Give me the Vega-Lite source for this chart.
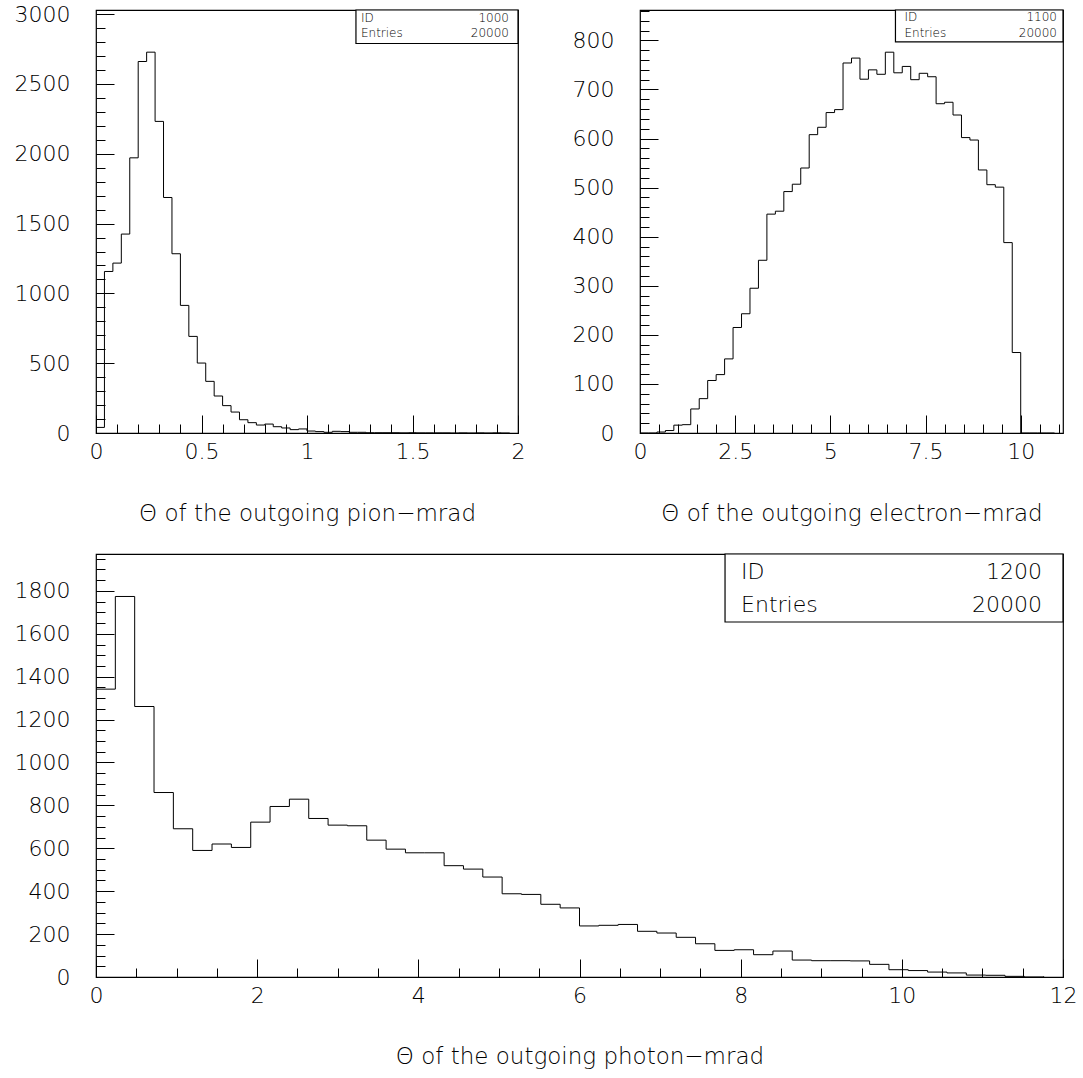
{
  "$schema": "https://vega.github.io/schema/vega-lite/v6.json",
  "background": "white",
  "padding": {"left": 13, "top": 2, "right": 0, "bottom": 0},
  "config": {
    "font": "DejaVu Sans",
    "view": {"stroke": "black", "strokeWidth": 1.2},
    "axis": {
      "domain": false, "grid": false,
      "tickColor": "black", "tickWidth": 1,
      "labelFont": "DejaVu Sans", "labelFontSize": 22, "labelFontWeight": 200, "labelColor": "black",
      "labelFlush": false, "labelOverlap": false,
      "titleFont": "DejaVu Sans", "titleFontSize": 23, "titleFontWeight": 200, "titleColor": "black"
    }
  },
  "datasets": {
    "pion": [
      {"theta": 0.00, "entries": 40}, {"theta": 0.04, "entries": 1157}, {"theta": 0.08, "entries": 1217},
      {"theta": 0.12, "entries": 1425}, {"theta": 0.16, "entries": 1971}, {"theta": 0.20, "entries": 2661},
      {"theta": 0.24, "entries": 2728}, {"theta": 0.28, "entries": 2232}, {"theta": 0.32, "entries": 1687},
      {"theta": 0.36, "entries": 1284}, {"theta": 0.40, "entries": 914}, {"theta": 0.44, "entries": 692},
      {"theta": 0.48, "entries": 501}, {"theta": 0.52, "entries": 370}, {"theta": 0.56, "entries": 265},
      {"theta": 0.60, "entries": 196}, {"theta": 0.64, "entries": 150}, {"theta": 0.68, "entries": 95},
      {"theta": 0.72, "entries": 74}, {"theta": 0.76, "entries": 57}, {"theta": 0.80, "entries": 64},
      {"theta": 0.84, "entries": 45}, {"theta": 0.88, "entries": 36}, {"theta": 0.92, "entries": 24},
      {"theta": 0.96, "entries": 29}, {"theta": 1.00, "entries": 14}, {"theta": 1.04, "entries": 10},
      {"theta": 1.08, "entries": 5}, {"theta": 1.12, "entries": 12}, {"theta": 1.16, "entries": 10},
      {"theta": 1.20, "entries": 5}, {"theta": 1.24, "entries": 5}, {"theta": 1.28, "entries": 2},
      {"theta": 1.32, "entries": 2}, {"theta": 1.36, "entries": 2}, {"theta": 1.40, "entries": 2},
      {"theta": 1.44, "entries": 1}, {"theta": 1.48, "entries": 2}, {"theta": 1.52, "entries": 1},
      {"theta": 1.56, "entries": 1}, {"theta": 1.60, "entries": 1}, {"theta": 1.64, "entries": 1},
      {"theta": 1.68, "entries": 0}, {"theta": 1.72, "entries": 1}, {"theta": 1.76, "entries": 0},
      {"theta": 1.80, "entries": 1}, {"theta": 1.84, "entries": 0}, {"theta": 1.88, "entries": 1},
      {"theta": 1.92, "entries": 0}, {"theta": 1.96, "entries": 1}
    ],
    "electron": [
      {"theta": 0.0000, "entries": 0}, {"theta": 0.2222, "entries": 0}, {"theta": 0.4444, "entries": 2},
      {"theta": 0.6667, "entries": 5}, {"theta": 0.8889, "entries": 16}, {"theta": 1.1111, "entries": 17},
      {"theta": 1.3333, "entries": 49}, {"theta": 1.5556, "entries": 70}, {"theta": 1.7778, "entries": 107},
      {"theta": 2.0000, "entries": 119}, {"theta": 2.2222, "entries": 151}, {"theta": 2.4444, "entries": 215},
      {"theta": 2.6667, "entries": 243}, {"theta": 2.8889, "entries": 295}, {"theta": 3.1111, "entries": 352},
      {"theta": 3.3333, "entries": 446}, {"theta": 3.5556, "entries": 452}, {"theta": 3.7778, "entries": 492},
      {"theta": 4.0000, "entries": 507}, {"theta": 4.2222, "entries": 540}, {"theta": 4.4444, "entries": 608},
      {"theta": 4.6667, "entries": 623}, {"theta": 4.8889, "entries": 653}, {"theta": 5.1111, "entries": 659},
      {"theta": 5.3333, "entries": 754}, {"theta": 5.5556, "entries": 764}, {"theta": 5.7778, "entries": 721},
      {"theta": 6.0000, "entries": 740}, {"theta": 6.2222, "entries": 731}, {"theta": 6.4444, "entries": 776},
      {"theta": 6.6667, "entries": 734}, {"theta": 6.8889, "entries": 747}, {"theta": 7.1111, "entries": 720},
      {"theta": 7.3333, "entries": 733}, {"theta": 7.5556, "entries": 726}, {"theta": 7.7778, "entries": 671},
      {"theta": 8.0000, "entries": 674}, {"theta": 8.2222, "entries": 648}, {"theta": 8.4444, "entries": 602},
      {"theta": 8.6667, "entries": 597}, {"theta": 8.8889, "entries": 536}, {"theta": 9.1111, "entries": 506},
      {"theta": 9.3333, "entries": 501}, {"theta": 9.5556, "entries": 388}, {"theta": 9.7778, "entries": 164},
      {"theta": 10.0000, "entries": 0}, {"theta": 10.2222, "entries": 0}, {"theta": 10.4444, "entries": 0},
      {"theta": 10.6667, "entries": 0}, {"theta": 10.8889, "entries": 0}
    ],
    "photon": [
      {"theta": 0.00, "entries": 1342}, {"theta": 0.24, "entries": 1774}, {"theta": 0.48, "entries": 1261},
      {"theta": 0.72, "entries": 860}, {"theta": 0.96, "entries": 691}, {"theta": 1.20, "entries": 590},
      {"theta": 1.44, "entries": 620}, {"theta": 1.68, "entries": 604}, {"theta": 1.92, "entries": 722},
      {"theta": 2.16, "entries": 795}, {"theta": 2.40, "entries": 829}, {"theta": 2.64, "entries": 739},
      {"theta": 2.88, "entries": 708}, {"theta": 3.12, "entries": 705}, {"theta": 3.36, "entries": 638},
      {"theta": 3.60, "entries": 596}, {"theta": 3.84, "entries": 579}, {"theta": 4.08, "entries": 579},
      {"theta": 4.32, "entries": 519}, {"theta": 4.56, "entries": 503}, {"theta": 4.80, "entries": 466},
      {"theta": 5.04, "entries": 388}, {"theta": 5.28, "entries": 385}, {"theta": 5.52, "entries": 339},
      {"theta": 5.76, "entries": 322}, {"theta": 6.00, "entries": 238}, {"theta": 6.24, "entries": 241},
      {"theta": 6.48, "entries": 245}, {"theta": 6.72, "entries": 213}, {"theta": 6.96, "entries": 205},
      {"theta": 7.20, "entries": 185}, {"theta": 7.44, "entries": 155}, {"theta": 7.68, "entries": 124},
      {"theta": 7.92, "entries": 127}, {"theta": 8.16, "entries": 104}, {"theta": 8.40, "entries": 121},
      {"theta": 8.64, "entries": 79}, {"theta": 8.88, "entries": 76}, {"theta": 9.12, "entries": 76},
      {"theta": 9.36, "entries": 75}, {"theta": 9.60, "entries": 59}, {"theta": 9.84, "entries": 34},
      {"theta": 10.08, "entries": 30}, {"theta": 10.32, "entries": 23}, {"theta": 10.56, "entries": 19},
      {"theta": 10.80, "entries": 9}, {"theta": 11.04, "entries": 8}, {"theta": 11.28, "entries": 3},
      {"theta": 11.52, "entries": 0}, {"theta": 11.76, "entries": 3}
    ]
  },
  "spacing": 26,
  "vconcat": [
    {
      "spacing": 45,
      "hconcat": [
        {
          "width": 422, "height": 423,
          "resolve": {"axis": {"x": "independent", "y": "independent"}},
          "layer": [
            {
              "data": {"name": "pion"},
              "mark": {"type": "line", "interpolate": "step-after", "color": "black", "strokeWidth": 1},
              "encoding": {
                "x": {"field": "theta", "type": "quantitative", "scale": {"domain": [0, 2], "nice": false, "zero": false},
                      "axis": {"values": [0, 0.5, 1, 1.5, 2], "labelExpr": "'' + datum.value", "tickSize": -18, "labelPadding": 26, "title": "Θ of the outgoing pion−mrad", "titlePadding": 40}},
                "y": {"field": "entries", "type": "quantitative", "scale": {"domain": [0, 3030], "nice": false},
                      "axis": {"values": [0, 500, 1000, 1500, 2000, 2500, 3000], "labelExpr": "'' + datum.value", "tickSize": -18, "labelPadding": 44, "title": null}}
              }
            },
            {
              "data": {"name": "pion"},
              "mark": {"type": "point", "opacity": 0},
              "encoding": {
                "x": {"field": "theta", "type": "quantitative",
                      "axis": {"orient": "bottom", "values": [0,0.1,0.2,0.3,0.4,0.5,0.6,0.7,0.8,0.9,1,1.1,1.2,1.3,1.4,1.5,1.6,1.7,1.8,1.9,2], "tickSize": -9, "labels": false, "title": null}},
                "y": {"field": "entries", "type": "quantitative",
                      "axis": {"orient": "left", "values": [0,100,200,300,400,500,600,700,800,900,1000,1100,1200,1300,1400,1500,1600,1700,1800,1900,2000,2100,2200,2300,2400,2500,2600,2700,2800,2900,3000], "tickSize": -9, "labels": false, "title": null}}
              }
            },
            {
              "data": {"values": [{}]},
              "mark": {"type": "rect", "fill": "white", "stroke": "black", "strokeWidth": 1.2},
              "encoding": {
                "x": {"datum": 1.232, "type": "quantitative", "axis": null}, "x2": {"datum": 2},
                "y": {"datum": 2790, "type": "quantitative", "axis": null}, "y2": {"datum": 3030}
              }
            },
            {
              "data": {"values": [{}]},
              "mark": {"type": "text", "align": "left", "baseline": "middle", "dx": 5, "fontSize": 12, "lineHeight": 15, "fontWeight": 300, "fill": "black"},
              "encoding": {
                "x": {"datum": 1.232, "type": "quantitative", "axis": null},
                "y": {"datum": 2971, "type": "quantitative", "axis": null},
                "text": {"value": ["ID", "Entries"]}
              }
            },
            {
              "data": {"values": [{}]},
              "mark": {"type": "text", "align": "right", "baseline": "middle", "dx": -9, "fontSize": 12, "lineHeight": 15, "fontWeight": 300, "fill": "black"},
              "encoding": {
                "x": {"datum": 2, "type": "quantitative", "axis": null},
                "y": {"datum": 2971, "type": "quantitative", "axis": null},
                "text": {"value": ["1000", "20000"]}
              }
            }
          ]
        },
        {
          "width": 423, "height": 423,
          "resolve": {"axis": {"x": "independent", "y": "independent"}},
          "layer": [
            {
              "data": {"name": "electron"},
              "mark": {"type": "line", "interpolate": "step-after", "color": "black", "strokeWidth": 1},
              "encoding": {
                "x": {"field": "theta", "type": "quantitative", "scale": {"domain": [0, 11.111], "nice": false, "zero": false},
                      "axis": {"values": [0, 2.5, 5, 7.5, 10], "labelExpr": "'' + datum.value", "tickSize": -18, "labelPadding": 26, "title": "Θ of the outgoing electron−mrad", "titlePadding": 40}},
                "y": {"field": "entries", "type": "quantitative", "scale": {"domain": [0, 862], "nice": false},
                      "axis": {"values": [0, 100, 200, 300, 400, 500, 600, 700, 800], "labelExpr": "'' + datum.value", "tickSize": -18, "labelPadding": 44, "title": null}}
              }
            },
            {
              "data": {"name": "electron"},
              "mark": {"type": "point", "opacity": 0},
              "encoding": {
                "x": {"field": "theta", "type": "quantitative",
                      "axis": {"orient": "bottom", "values": [0,0.5,1,1.5,2,2.5,3,3.5,4,4.5,5,5.5,6,6.5,7,7.5,8,8.5,9,9.5,10,10.5,11], "tickSize": -9, "labels": false, "title": null}},
                "y": {"field": "entries", "type": "quantitative",
                      "axis": {"orient": "left", "values": [0,20,40,60,80,100,120,140,160,180,200,220,240,260,280,300,320,340,360,380,400,420,440,460,480,500,520,540,560,580,600,620,640,660,680,700,720,740,760,780,800,820,840,860], "tickSize": -9, "labels": false, "title": null}}
              }
            },
            {
              "data": {"values": [{}]},
              "mark": {"type": "rect", "fill": "white", "stroke": "black", "strokeWidth": 1.2},
              "encoding": {
                "x": {"datum": 6.71, "type": "quantitative", "axis": null}, "x2": {"datum": 11.111},
                "y": {"datum": 797, "type": "quantitative", "axis": null}, "y2": {"datum": 862}
              }
            },
            {
              "data": {"values": [{}]},
              "mark": {"type": "text", "align": "left", "baseline": "middle", "dx": 9, "fontSize": 12, "lineHeight": 15.5, "fontWeight": 300, "fill": "black"},
              "encoding": {
                "x": {"datum": 6.71, "type": "quantitative", "axis": null},
                "y": {"datum": 847, "type": "quantitative", "axis": null},
                "text": {"value": ["ID", "Entries"]}
              }
            },
            {
              "data": {"values": [{}]},
              "mark": {"type": "text", "align": "right", "baseline": "middle", "dx": -6, "fontSize": 12, "lineHeight": 15.5, "fontWeight": 300, "fill": "black"},
              "encoding": {
                "x": {"datum": 11.111, "type": "quantitative", "axis": null},
                "y": {"datum": 847, "type": "quantitative", "axis": null},
                "text": {"value": ["1100", "20000"]}
              }
            }
          ]
        }
      ]
    },
    {
      "width": 967, "height": 423,
      "resolve": {"axis": {"x": "independent", "y": "independent"}},
      "layer": [
        {
          "data": {"name": "photon"},
          "mark": {"type": "line", "interpolate": "step-after", "color": "black", "strokeWidth": 1},
          "encoding": {
            "x": {"field": "theta", "type": "quantitative", "scale": {"domain": [0, 12], "nice": false, "zero": false},
                  "axis": {"values": [0, 2, 4, 6, 8, 10, 12], "labelExpr": "'' + datum.value", "tickSize": -18, "labelPadding": 26, "title": "Θ of the outgoing photon−mrad", "titlePadding": 39}},
            "y": {"field": "entries", "type": "quantitative", "scale": {"domain": [0, 1972], "nice": false},
                  "axis": {"values": [0, 200, 400, 600, 800, 1000, 1200, 1400, 1600, 1800], "labelExpr": "'' + datum.value", "tickSize": -18, "labelPadding": 44, "title": null}}
          }
        },
        {
          "data": {"name": "photon"},
          "mark": {"type": "point", "opacity": 0},
          "encoding": {
            "x": {"field": "theta", "type": "quantitative",
                  "axis": {"orient": "bottom", "values": [0,0.5,1,1.5,2,2.5,3,3.5,4,4.5,5,5.5,6,6.5,7,7.5,8,8.5,9,9.5,10,10.5,11,11.5,12], "tickSize": -9, "labels": false, "title": null}},
            "y": {"field": "entries", "type": "quantitative",
                  "axis": {"orient": "left", "values": [0,50,100,150,200,250,300,350,400,450,500,550,600,650,700,750,800,850,900,950,1000,1050,1100,1150,1200,1250,1300,1350,1400,1450,1500,1550,1600,1650,1700,1750,1800,1850,1900,1950], "tickSize": -9, "labels": false, "title": null}}
          }
        },
        {
          "data": {"values": [{}]},
          "mark": {"type": "rect", "fill": "white", "stroke": "black", "strokeWidth": 1.2},
          "encoding": {
            "x": {"datum": 7.806, "type": "quantitative", "axis": null}, "x2": {"datum": 12},
            "y": {"datum": 1655, "type": "quantitative", "axis": null}, "y2": {"datum": 1972}
          }
        },
        {
          "data": {"values": [{}]},
          "mark": {"type": "text", "align": "left", "baseline": "middle", "dx": 16, "fontSize": 22, "lineHeight": 33, "fontWeight": 200, "fill": "black"},
          "encoding": {
            "x": {"datum": 7.806, "type": "quantitative", "axis": null},
            "y": {"datum": 1889, "type": "quantitative", "axis": null},
            "text": {"value": ["ID", "Entries"]}
          }
        },
        {
          "data": {"values": [{}]},
          "mark": {"type": "text", "align": "right", "baseline": "middle", "dx": -21, "fontSize": 22, "lineHeight": 33, "fontWeight": 200, "fill": "black"},
          "encoding": {
            "x": {"datum": 12, "type": "quantitative", "axis": null},
            "y": {"datum": 1889, "type": "quantitative", "axis": null},
            "text": {"value": ["1200", "20000"]}
          }
        }
      ]
    }
  ]
}
